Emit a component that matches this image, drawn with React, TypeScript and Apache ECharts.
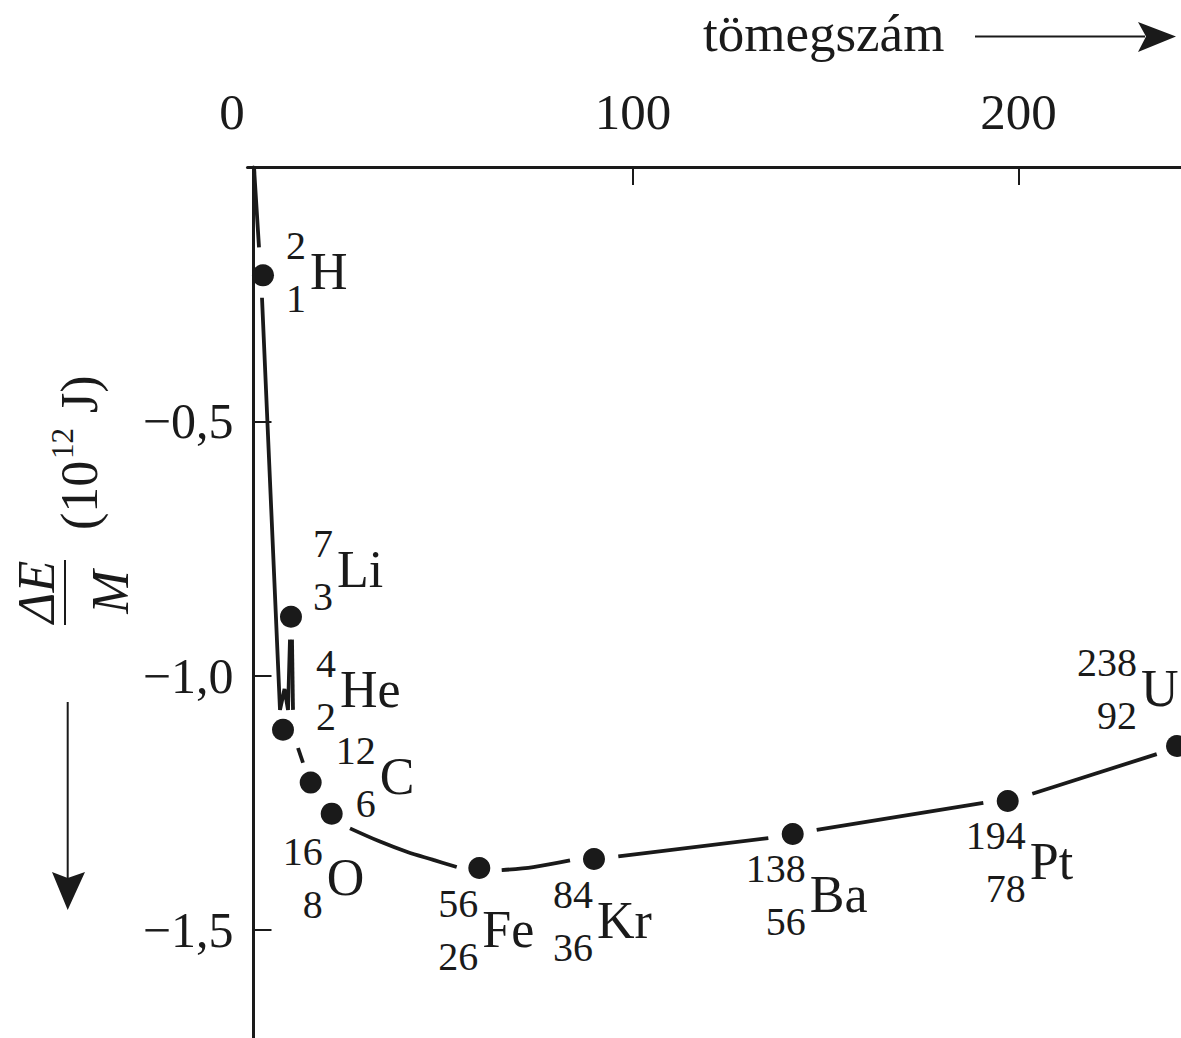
import React, { useEffect, useRef } from 'react';
import * as echarts from 'echarts';

// ---- data ----
const isotopeSymbols = ['H', 'Li', 'He', 'C', 'O', 'Fe', 'Kr', 'Ba', 'Pt', 'U'];
const massNumbers = ['2', '7', '4', '12', '16', '56', '84', '138', '194', '238'];
const atomicNumbers = ['1', '3', '2', '6', '8', '26', '36', '56', '78', '92'];
const pointX = [4.02, 11.28, 9.21, 16.39, 21.84, 60.13, 89.88, 141.43, 197.2, 241.12];
const pointY = [-0.213, -0.884, -1.106, -1.21, -1.271, -1.378, -1.36, -1.311, -1.246, -1.138];

// the drawn curve, piece by piece (it is interrupted around each dot)
const curveSegments: number[][][] = [
  [[1.69, 0], [2.98, -0.158]],
  [[3.76, -0.257], [8.43, -1.067], [9.6, -1.026], [10.51, -1.067], [11.02, -0.929]],
  [[11.54, -0.929], [11.8, -1.067]],
  [[13.1, -1.142], [14.4, -1.171]],
  [[26.59, -1.3], [34.37, -1.326], [41.3, -1.346], [48.2, -1.362], [54.27, -1.376]],
  [[65.94, -1.382], [74.14, -1.376], [83.66, -1.363]],
  [[96.19, -1.355], [135.1, -1.319]],
  [[147.65, -1.303], [190.87, -1.25]],
  [[203.58, -1.232], [235.85, -1.154]],
];
const smoothSegments = [4, 5];

const xTickValues = [100, 200];
const xLabelValues = [0, 100, 200];
const yTickValues = [-0.5, -1.0, -1.5];
const xTitle = 'tömegszám';

// ---- layout / style ----
const INK = '#1a1a1a';
const SERIF = '"Liberation Serif", "Times New Roman", serif';
// label anchor offsets (px) from each dot: left edge & cap-centre of element symbol
const labelOffsets = [
  [47, -4], [46, -47], [57, -40], [69, -6], [-5, 64],
  [3, 61], [3, 62], [17, 61], [22, 60.5], [-36, -57.5],
];

function txt(x: number, y: number, text: string, size: number, align: string, extra: any = {}) {
  return {
    type: 'text',
    x,
    y,
    silent: true,
    style: {
      text,
      fontSize: size,
      fontFamily: SERIF,
      fill: INK,
      textAlign: align,
      textVerticalAlign: 'middle',
      align,
      verticalAlign: 'middle',
      ...extra,
    },
  };
}

export default function App() {
  const ref = useRef<HTMLDivElement>(null);

  useEffect(() => {
    if (!ref.current) return;
    const chart = echarts.init(ref.current, undefined, { renderer: 'svg' });

    const lineSeries = curveSegments.map((seg, i) => ({
      type: 'line',
      data: seg,
      symbol: 'none',
      showSymbol: false,
      smooth: smoothSegments.includes(i) ? 0.35 : false,
      lineStyle: { color: INK, width: 3.8, cap: 'butt', opacity: 1 },
      z: 2,
      silent: true,
    }));

    chart.setOption({
      animation: false,
      grid: { left: 247.5, top: 167, right: 0, bottom: 0, containLabel: false },
      xAxis: {
        type: 'value',
        position: 'top',
        min: 0,
        max: 242.15,
        axisLine: { onZero: false, lineStyle: { color: INK, width: 3 } },
        axisTick: {
          inside: true,
          length: 18,
          customValues: xTickValues,
          lineStyle: { color: INK, width: 2 },
        },
        axisLabel: {
          customValues: xLabelValues,
          fontSize: 51,
          lineHeight: 50,
          fontFamily: SERIF,
          color: INK,
          margin: 30,
          formatter: (v: number) => (v === 0 ? '{z|0}' : String(v)),
          rich: {
            z: { fontSize: 51, lineHeight: 50, fontFamily: SERIF, color: INK, padding: [0, 31, 0, 0] },
          },
        },
        splitLine: { show: false },
      },
      yAxis: {
        type: 'value',
        min: -1.712,
        max: 0,
        offset: -6,
        axisLine: { onZero: false, lineStyle: { color: INK, width: 3 } },
        axisTick: {
          inside: true,
          length: 18,
          customValues: yTickValues,
          lineStyle: { color: INK, width: 2 },
        },
        axisLabel: {
          customValues: yTickValues,
          fontSize: 50,
          lineHeight: 50,
          fontFamily: SERIF,
          color: INK,
          margin: 20,
          formatter: (v: number) => '\u2212' + Math.abs(v).toFixed(1).replace('.', ','),
        },
        splitLine: { show: false },
      },
      series: [
        ...lineSeries,
        {
          type: 'scatter',
          data: pointX.map((x, i) => [x, pointY[i]]),
          symbol: 'circle',
          symbolSize: 22,
          itemStyle: { color: INK, opacity: 1 },
          z: 4,
          silent: true,
        },
      ],
    });

    const graphics: any[] = [];
    pointX.forEach((x, i) => {
      const p = chart.convertToPixel({ xAxisIndex: 0, yAxisIndex: 0 }, [x, pointY[i]]) as number[];
      const ax = p[0] + labelOffsets[i][0];
      const ay = p[1] + labelOffsets[i][1];
      graphics.push(txt(ax, ay, isotopeSymbols[i], 52, 'left'));
      graphics.push(txt(ax - 4, ay - 26, massNumbers[i], 40, 'right'));
      graphics.push(txt(ax - 4, ay + 27, atomicNumbers[i], 40, 'right'));
    });

    // top title with arrow
    graphics.push(txt(703, 32.5, xTitle, 53, 'left'));
    graphics.push({
      type: 'line',
      silent: true,
      shape: { x1: 975, y1: 36.5, x2: 1145, y2: 36.5 },
      style: { stroke: INK, lineWidth: 2 },
    });
    graphics.push({
      type: 'polygon',
      silent: true,
      shape: { points: [[1138, 22], [1146, 36.5], [1138, 52], [1176, 36.5]] },
      style: { fill: INK },
    });

    // left downward arrow
    graphics.push({
      type: 'line',
      silent: true,
      shape: { x1: 67.7, y1: 702, x2: 67.7, y2: 880 },
      style: { stroke: INK, lineWidth: 2 },
    });
    graphics.push({
      type: 'polygon',
      silent: true,
      shape: { points: [[52, 872], [67.7, 878], [85, 872], [67.7, 910]] },
      style: { fill: INK },
    });

    // vertical axis title (rotated)
    graphics.push({
      type: 'group',
      x: 65,
      y: 592,
      rotation: Math.PI / 2,
      silent: true,
      children: [
        {
          type: 'line',
          shape: { x1: -33, y1: 0, x2: 32, y2: 0 },
          style: { stroke: INK, lineWidth: 2 },
        },
        txt(0, -28.5, '\u0394E', 52, 'center', { fontStyle: 'italic' }),
        txt(0, 45, 'M', 52, 'center', { fontStyle: 'italic' }),
        txt(62, 14, '(10', 52, 'left'),
        txt(133, -3, '12', 31, 'left'),
        txt(166, 14, ' J)', 52, 'left'),
      ],
    });

    chart.setOption({ graphic: graphics });

    return () => chart.dispose();
  }, []);

  return (
    <div
      ref={ref}
      style={{ position: 'absolute', left: 0, top: 0, width: '1181px', height: '1038px', background: '#fff' }}
    />
  );
}
